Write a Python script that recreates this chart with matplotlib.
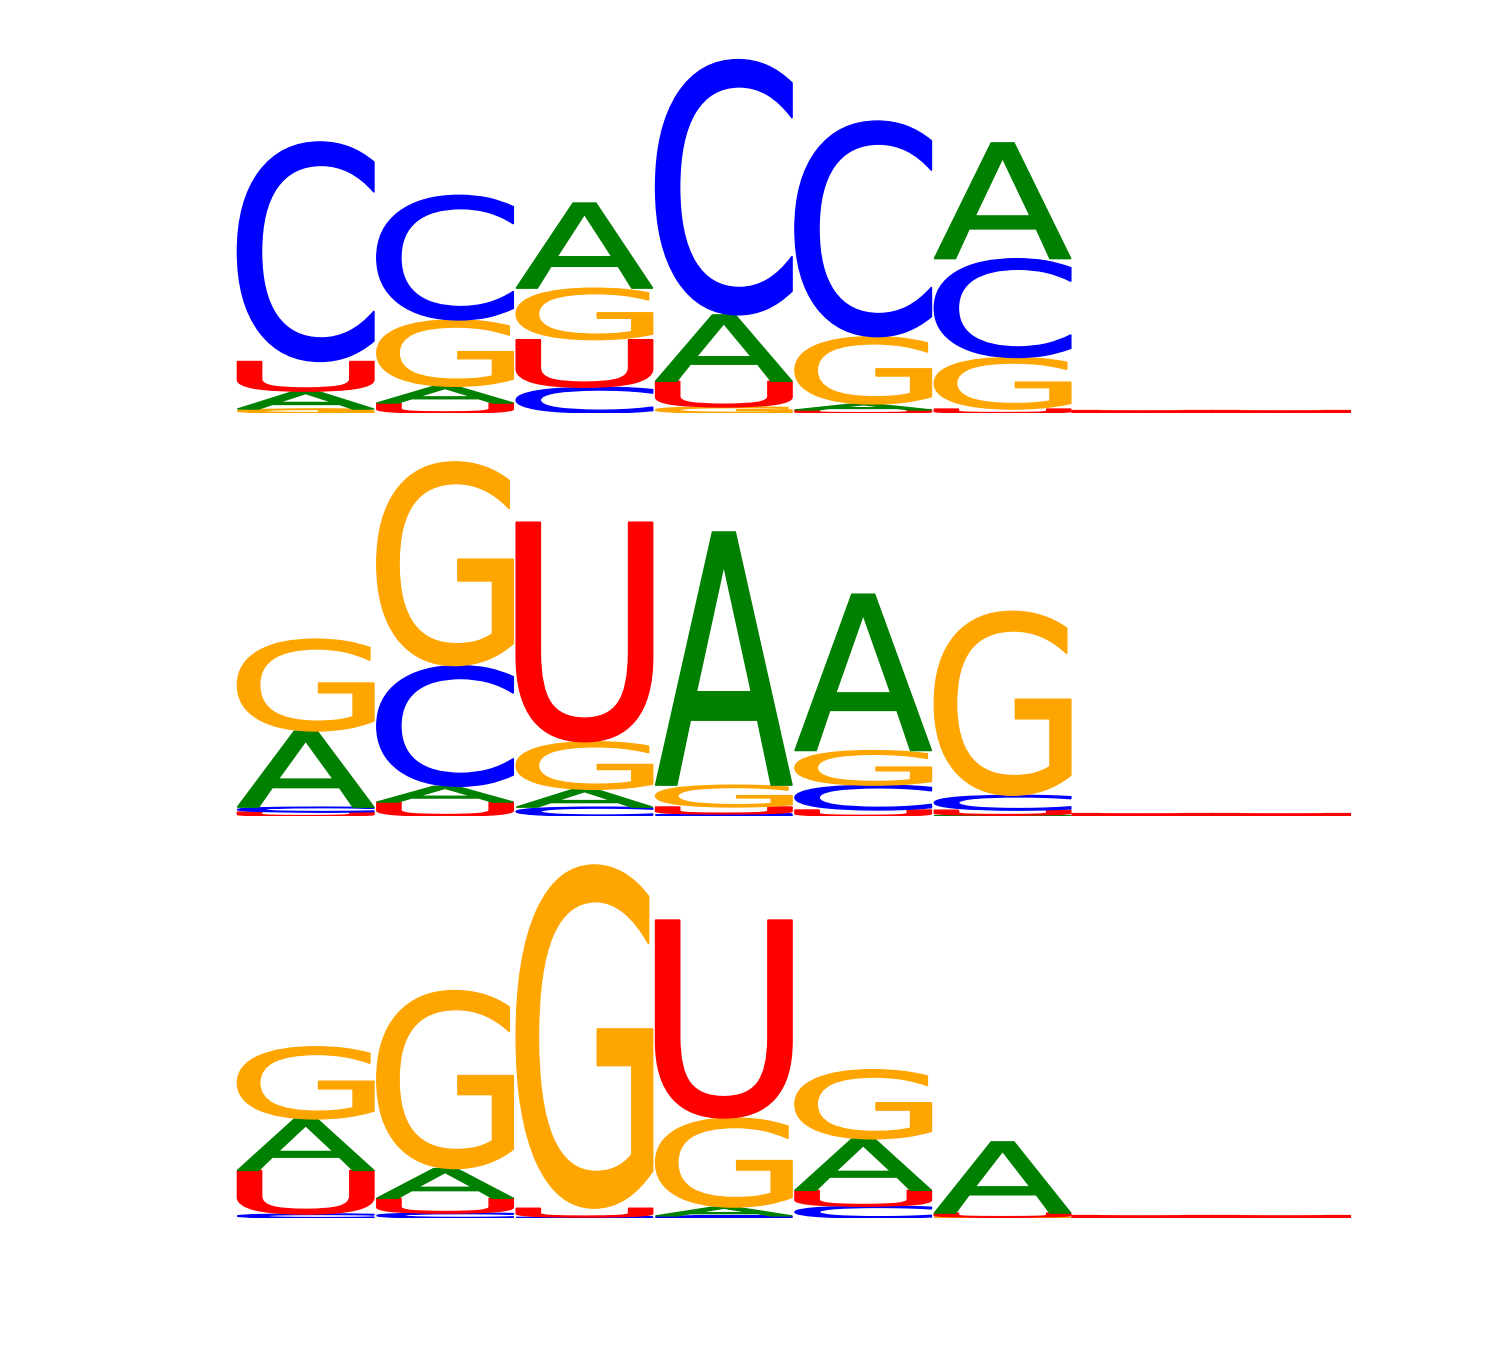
import matplotlib
matplotlib.use("Agg")
import matplotlib.pyplot as plt
from matplotlib.textpath import TextPath
from matplotlib.font_manager import FontProperties
from matplotlib.patches import PathPatch
from matplotlib.transforms import Affine2D

# ---- data (information content in bits), positions 1..8 ----
positions = [1, 2, 3, 4, 5, 6, 7, 8]
letters = ["A", "C", "G", "U"]

# panel 1
p1_A = [0.095, 0.089, 0.453, 0.353, 0.032, 0.616, 0.0, 0.0]
p1_C = [1.168, 0.663, 0.137, 1.358, 1.147, 0.526, 0.0, 0.0]
p1_G = [0.021, 0.353, 0.274, 0.032, 0.358, 0.274, 0.0, 0.0]
p1_U = [0.158, 0.053, 0.253, 0.137, 0.016, 0.021, 0.004, 0.004]

# panel 2
p2_A = [0.405, 0.084, 0.095, 1.347, 0.832, 0.005, 0.0, 0.0]
p2_C = [0.026, 0.642, 0.047, 0.011, 0.132, 0.079, 0.0, 0.0]
p2_G = [0.489, 1.084, 0.253, 0.116, 0.184, 0.979, 0.0, 0.0]
p2_U = [0.021, 0.074, 1.168, 0.037, 0.032, 0.026, 0.004, 0.004]

# panel 3
p3_A = [0.274, 0.158, 0.000, 0.047, 0.274, 0.379, 0.0, 0.0]
p3_C = [0.021, 0.026, 0.005, 0.011, 0.063, 0.000, 0.0, 0.0]
p3_G = [0.384, 0.947, 1.826, 0.474, 0.368, 0.005, 0.0, 0.0]
p3_U = [0.232, 0.079, 0.047, 1.053, 0.084, 0.021, 0.004, 0.004]

panels = [
    {"A": p1_A, "C": p1_C, "G": p1_G, "U": p1_U},
    {"A": p2_A, "C": p2_C, "G": p2_G, "U": p2_U},
    {"A": p3_A, "C": p3_C, "G": p3_G, "U": p3_U},
]

colors = {"A": "#008000", "C": "#0000ff", "G": "#ffa500", "U": "#ff0000"}

fp = FontProperties(family="DejaVu Sans", weight="normal")
glyphs = {}
for L in letters:
    p = TextPath((0, 0), L, size=1, prop=fp)
    glyphs[L] = (p, p.get_extents())


def draw_letter(ax, L, xc, y0, w, h):
    path, ext = glyphs[L]
    if h <= 0:
        return
    t = (Affine2D()
         .translate(-ext.x0, -ext.y0)
         .scale(w / ext.width, h / ext.height)
         .translate(xc - w / 2, y0))
    lw = 3.4 if h < 0.0045 else 1.0
    patch = PathPatch(t.transform_path(path), facecolor=colors[L],
                      edgecolor=colors[L], lw=lw, joinstyle="miter")
    ax.add_patch(patch)


fig = plt.figure(figsize=(15, 13.5), dpi=100)
left = 236 / 1500
width = 1115 / 1500
height = 376 / 1350
bottoms = [1 - 413 / 1350, 1 - 816 / 1350, 1 - 1218 / 1350]

for data, b in zip(panels, bottoms):
    ax = fig.add_axes([left, b, width, height])
    for i, xpos in enumerate(positions):
        stack = sorted(((data[L][i], L) for L in letters), key=lambda t: t[0])
        y = 0.0
        for h, L in stack:
            draw_letter(ax, L, xpos, y, 0.98, h)
            y += h
    ax.set_xlim(0.5, 8.5)
    ax.set_ylim(0, 2)
    ax.axis("off")

fig.savefig("out.png", dpi=100, facecolor="white")
